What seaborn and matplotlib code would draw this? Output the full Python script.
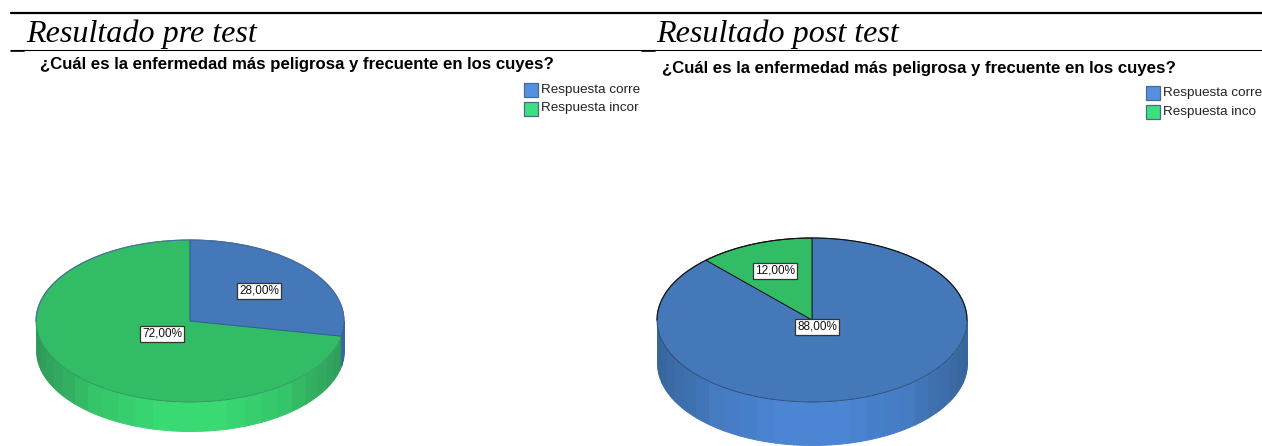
import matplotlib
matplotlib.use('Agg')
import matplotlib.pyplot as plt
from matplotlib.patches import Rectangle
import numpy as np
import seaborn as sns

W, H = 1262, 446

# legend names as they show in each cropped panel
legend_pre = ['Respuesta corre', 'Respuesta incor']
legend_post = ['Respuesta corre', 'Respuesta inco']
pre_values = [28.0, 72.0]
post_values = [88.0, 12.0]
question = '¿Cuál es la enfermedad más peligrosa y frecuente en los cuyes?'
heading_pre = 'Resultado pre test'
heading_post = 'Resultado post test'

top_colors = ['#4478B8', '#33BC66']
side_dark = ['#38659C', '#2E9A58']
side_bright = ['#4C88D8', '#3ADE75']
legend_colors = ['#5590E0', '#3CE07C']


def px_axes(fig, left, top, right, bottom):
    # axes placed by pixel box of the figure
    ax = fig.add_axes([left / W, 1 - bottom / H, (right - left) / W, (bottom - top) / H])
    ax.set_facecolor('none')
    return ax


def draw_pie(fig, values, cx, cy, rx, ry, depth, edges_by_slice, rim_color):
    ax = px_axes(fig, cx - rx, cy - ry, cx + rx, cy + ry + depth)
    wedges, _ = ax.pie(values, colors=top_colors, startangle=90, counterclock=False,
                       wedgeprops={'linewidth': 0.7, 'clip_on': False})
    for w, c, z in zip(wedges, edges_by_slice[0], edges_by_slice[1]):
        w.set_edgecolor(c)
        w.set_zorder(z)
    d = depth / ry
    ax.set_aspect('auto')
    ax.set_xlim(-1, 1)
    ax.set_ylim(-1 - d, 1)

    # upper arc is darker than the seam at the front
    t = np.radians(np.linspace(0, 180, 120))
    ax.plot(np.cos(t), np.sin(t), color=rim_color, lw=0.8, zorder=7, clip_on=False)

    # the rim of the pie, cut in flat strips like the SPSS one
    split = (90 - 3.6 * values[0]) % 360
    angles = np.linspace(180, 360, 27)
    if 180 < split < 360:
        angles = np.union1d(angles, [split])
    shades = [sns.blend_palette([side_dark[i], side_bright[i]], 14) for i in range(2)]
    for a0, a1 in zip(angles[:-1], angles[1:]):
        mid = (a0 + a1) / 2
        # clockwise from the top: first slice runs from 90 down to split
        idx = 0 if (90 - mid) % 360 < 3.6 * values[0] else 1
        level = int(np.abs(np.sin(np.radians(mid))) ** 2 * 13)
        t = np.radians(np.linspace(a0, a1, 8))
        ax.fill_between(np.cos(t), np.sin(t) - d, np.sin(t), color=shades[idx][level],
                        linewidth=0.7, zorder=1, clip_on=False)
    return ax


def draw_panel(fig, left, right, title_x, title_y, legend_x, legend_y, names, labels, values):
    ax = px_axes(fig, left, 52, right, H)
    ax.set_xlim(left, right)
    ax.set_ylim(H, 52)
    ax.axis('off')
    ax.text(title_x, title_y, question, fontsize=12.1, fontweight='bold',
            family='Liberation Sans', va='center', ha='left', color='black')
    for i, name in enumerate(names):
        y = legend_y + i * 18.5
        ax.add_patch(Rectangle((legend_x, y - 7), 14, 14, facecolor=legend_colors[i],
                               edgecolor='#4a6a8a', linewidth=0.9))
        ax.text(legend_x + 17, y, name, fontsize=9.7, family='Liberation Sans',
                va='center', ha='left', color='#222222')
    for (x, y), v in zip(labels, values):
        ax.text(x, y, f'{v:.2f}%'.replace('.', ','), fontsize=8.5, family='Liberation Sans',
                ha='center', va='center', color='#111111', zorder=10,
                bbox={'boxstyle': 'square,pad=0.2', 'facecolor': 'white',
                      'edgecolor': '#333333', 'linewidth': 0.9})


sns.set_theme(style='white')
fig = plt.figure(figsize=(W / 100, H / 100), dpi=100, facecolor='white')

# pies first so panels sit on top
draw_pie(fig, pre_values, 190, 321, 154, 81, 29, (['#2F5F95', '#2F9A5E'], [6, 5]), '#4A6FA0')
draw_pie(fig, post_values, 812, 320, 155, 82, 43, (['#2A4F7C', '#111111'], [5, 6]), '#111111')

draw_panel(fig, 9, 640, 40, 65, 524, 90, legend_pre, [(259, 291), (162, 334)], pre_values)
draw_panel(fig, 645, 1258, 662, 69, 1146, 93, legend_post, [(817, 327), (775, 271)], post_values)

# table rules and headings
page = px_axes(fig, 0, 0, W, H)
page.set_xlim(0, W)
page.set_ylim(H, 0)
page.axis('off')
page.plot([11, W], [12.5, 12.5], color='black', lw=1.6)
page.plot([11, W], [50, 50], color='black', lw=0.8)
page.plot([11, 24], [51, 51], color='black', lw=1.2)
page.plot([642, 655], [51, 51], color='black', lw=1.2)
page.text(26, 34, heading_pre, family='Liberation Serif', style='italic', fontsize=23.1,
          va='center', ha='left', color='black')
page.text(656, 34, heading_post, family='Liberation Serif', style='italic', fontsize=23.1,
          va='center', ha='left', color='black')

fig.savefig('out.png', dpi=100)
